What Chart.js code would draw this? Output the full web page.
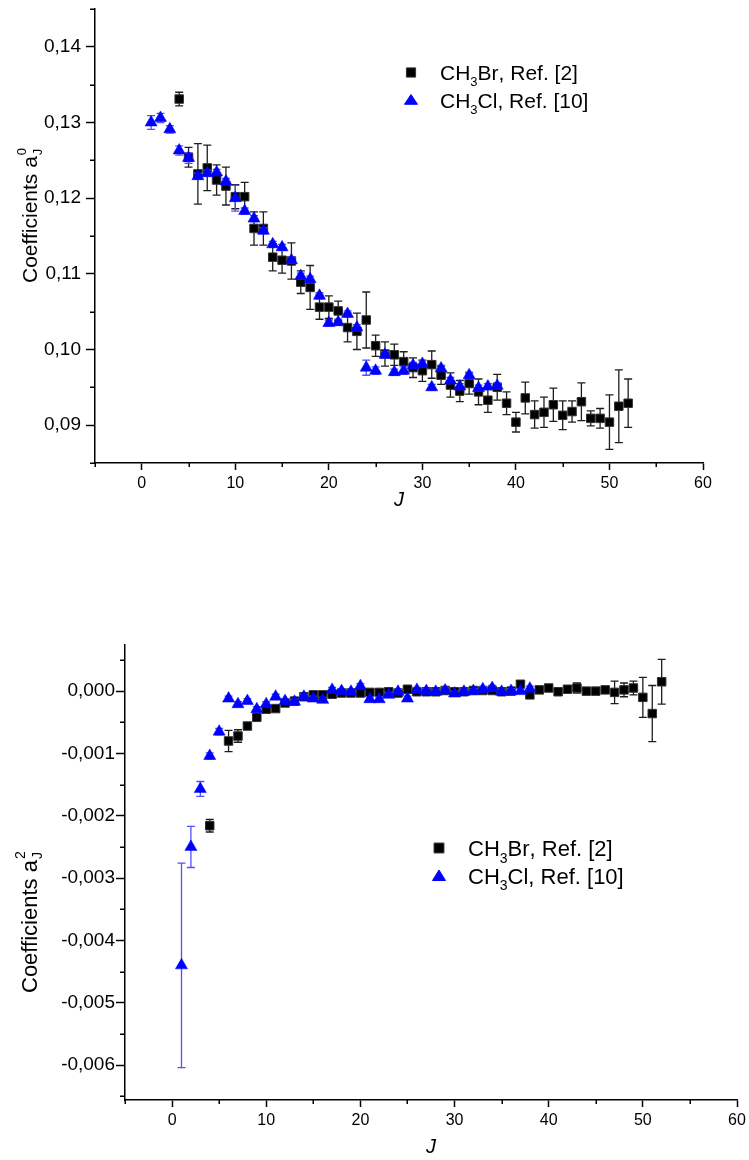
<!DOCTYPE html>
<html><head><meta charset="utf-8">
<script src="https://cdn.jsdelivr.net/npm/chart.js@4.4.1/dist/chart.umd.min.js"></script>
<style>
html,body{margin:0;padding:0;background:#fff;}
#c1{position:absolute;left:0;top:0;}
#c2{position:absolute;left:0;top:560px;}
</style></head><body>
<canvas id="c1" width="749" height="560"></canvas>
<canvas id="c2" width="749" height="600"></canvas>
<script>
const FONT = "'Liberation Sans', Arial, Helvetica, sans-serif";
const seriesNames = ['CH₃Br, Ref. [2]', 'CH₃Cl, Ref. [10]'];
const xTickValues = [0, 10, 20, 30, 40, 50, 60];
const xMinorTicks = [-5, 5, 15, 25, 35, 45, 55];

// ---- Top panel: coefficients a0_J ----
const jBrTop  = [4,5,6,7,8,9,10,11,12,13,14,15,16,17,18,19,20,21,22,23,24,25,26,27,28,29,30,31,32,33,34,35,36,37,38,39,40,41,42,43,44,45,46,47,48,49,50,51,52];
const aBrTop  = [0.1331,0.1254,0.1232,0.1240,0.1224,0.1216,0.1202,0.1202,0.1160,0.1160,0.1122,0.1118,0.1117,0.1089,0.1082,0.1056,0.1056,0.1051,0.1029,0.1024,0.1039,0.1005,0.0994,0.0993,0.0984,0.0976,0.0972,0.0980,0.0966,0.0953,0.0945,0.0955,0.0944,0.0933,0.0950,0.0929,0.0904,0.0936,0.0914,0.0917,0.0927,0.0913,0.0918,0.0931,0.0909,0.0909,0.0904,0.0925,0.0929];
const eBrTop  = [0.0009,0.0013,0.0040,0.0030,0.0020,0.0025,0.0016,0.0019,0.0022,0.0022,0.0018,0.0017,0.0024,0.0015,0.0029,0.0016,0.0015,0.0013,0.0019,0.0024,0.0037,0.0014,0.0016,0.0014,0.0013,0.0013,0.0014,0.0018,0.0012,0.0016,0.0014,0.0014,0.0017,0.0016,0.0017,0.0015,0.0013,0.0021,0.0018,0.0020,0.0022,0.0019,0.0014,0.0025,0.0010,0.0013,0.0036,0.0048,0.0032];
const jClTop  = [1,2,3,4,5,6,7,8,9,10,11,12,13,14,15,16,17,18,19,20,21,22,23,24,25,26,27,28,29,30,31,32,33,34,35,36,37,38];
const aClTop  = [0.1300,0.1306,0.1291,0.1263,0.1253,0.1229,0.1233,0.1234,0.1222,0.1200,0.1183,0.1173,0.1157,0.1139,0.1135,0.1118,0.1097,0.1093,0.1071,0.1035,0.1036,0.1047,0.1029,0.0976,0.0972,0.0993,0.0970,0.0972,0.0979,0.0981,0.0950,0.0975,0.0959,0.0951,0.0966,0.0949,0.0951,0.0952];
const eClTop  = [0.0009,0.0006,0.0005,0.0006,0.0007,0.0004,0.0004,0.0004,0.0004,0.0017,0.0004,0.0004,0.0004,0.0004,0.0004,0.0004,0.0004,0.0004,0.0004,0.0004,0.0004,0.0004,0.0004,0.0010,0.0005,0.0004,0.0004,0.0005,0.0004,0.0004,0.0004,0.0004,0.0004,0.0004,0.0004,0.0004,0.0004,0.0004];
const yTicksTop = [0.09, 0.10, 0.11, 0.12, 0.13, 0.14];
const yMinorTop = [0.085, 0.095, 0.105, 0.115, 0.125, 0.135, 0.145];

// ---- Bottom panel: coefficients a2_J ----
const jBrBot  = [4,6,7,8,9,10,11,12,13,14,15,16,17,18,19,20,21,22,23,24,25,26,27,28,29,30,31,32,33,34,35,36,37,38,39,40,41,42,43,44,45,46,47,48,49,50,51,52];
const aBrBot  = [-0.00216,-0.00080,-0.00072,-0.00056,-0.00042,-0.00029,-0.00028,-0.00019,-0.00016,-0.00009,-0.00006,-0.00006,-0.00005,-0.00003,-0.00003,-0.00003,-0.00002,-0.00002,-0.00001,-0.00003,0.00003,-0.00001,-0.00001,-0.00001,0.00001,-0.00001,-0.00001,0.00001,0.00001,0.00001,-0.00001,0.00000,0.00011,-0.00006,0.00002,0.00005,-0.00001,0.00003,0.00005,0.00000,0.00000,0.00002,-0.00002,0.00002,0.00005,-0.00010,-0.00036,0.00015];
const eBrBot  = [0.00010,0.00017,0.00010,0.00004,0.00004,0.00004,0.00004,0.00004,0.00004,0.00004,0.00004,0.00004,0.00004,0.00004,0.00004,0.00004,0.00004,0.00004,0.00004,0.00005,0.00004,0.00004,0.00004,0.00004,0.00004,0.00004,0.00004,0.00004,0.00004,0.00004,0.00004,0.00004,0.00004,0.00004,0.00004,0.00004,0.00004,0.00004,0.00008,0.00004,0.00004,0.00004,0.00018,0.00011,0.00011,0.00032,0.00045,0.00036];
const jClBot  = [1,2,3,4,5,6,7,8,9,10,11,12,13,14,15,16,17,18,19,20,21,22,23,24,25,26,27,28,29,30,31,32,33,34,35,36,37,38];
const aClBot  = [-0.00440,-0.00250,-0.00157,-0.00104,-0.00065,-0.00012,-0.00021,-0.00016,-0.00029,-0.00021,-0.00009,-0.00016,-0.00017,-0.00009,-0.00012,-0.00014,0.00002,0.00000,-0.00001,0.00008,-0.00013,-0.00013,-0.00006,-0.00001,-0.00012,0.00002,0.00000,-0.00001,0.00001,-0.00004,-0.00001,0.00000,0.00003,0.00005,-0.00001,0.00000,0.00000,0.00004];
const eClBot  = [0.00164,0.00033,0.00012,0.00005,0.00005,0.00004,0.00004,0.00004,0.00004,0.00004,0.00004,0.00004,0.00004,0.00004,0.00004,0.00004,0.00004,0.00004,0.00004,0.00004,0.00004,0.00004,0.00004,0.00004,0.00004,0.00004,0.00004,0.00004,0.00004,0.00004,0.00004,0.00004,0.00004,0.00004,0.00004,0.00004,0.00004,0.00004];
const yTicksBot = [0, -0.001, -0.002, -0.003, -0.004, -0.005, -0.006];
const yMinorBot = [0.0005, -0.0005, -0.0015, -0.0025, -0.0035, -0.0045, -0.0055, -0.0065];

const pts = (js, vs) => js.map((j, i) => ({x: j, y: vs[i]}));

// error bars drawn just before each dataset's own markers
const errorBars = {
  id: 'errorBars',
  beforeDatasetDraw(chart, args) {
    const ds = chart.data.datasets[args.index];
    if (!ds.errors) return;
    const ctx = chart.ctx, xs = chart.scales.x, ys = chart.scales.y;
    const cap = 4;
    ctx.save();
    ctx.strokeStyle = ds.errorColor;
    ctx.lineWidth = 1.3;
    ds.data.forEach((p, i) => {
      const e = ds.errors[i];
      if (!e) return;
      const x = xs.getPixelForValue(p.x);
      const y1 = ys.getPixelForValue(p.y + e), y2 = ys.getPixelForValue(p.y - e);
      ctx.beginPath();
      ctx.moveTo(x, y1); ctx.lineTo(x, y2);
      ctx.moveTo(x - cap, y1); ctx.lineTo(x + cap, y1);
      ctx.moveTo(x - cap, y2); ctx.lineTo(x + cap, y2);
      ctx.stroke();
    });
    ctx.restore();
  }
};

const minorTicks = {
  id: 'minorTicks',
  afterDraw(chart, args, opts) {
    const ctx = chart.ctx, xs = chart.scales.x, ys = chart.scales.y;
    const ca = chart.chartArea;
    ctx.save();
    ctx.strokeStyle = '#000';
    ctx.lineWidth = 1.5;
    ctx.beginPath();
    opts.x.forEach(v => {
      const px = Math.round(xs.getPixelForValue(v)) + 0.25;
      ctx.moveTo(px, ca.bottom); ctx.lineTo(px, ca.bottom + 4);
    });
    opts.y.forEach(v => {
      const py = Math.round(ys.getPixelForValue(v)) + 0.25;
      ctx.moveTo(ca.left - 5, py); ctx.lineTo(ca.left, py);
    });
    ctx.stroke();
    ctx.restore();
  }
};

function drawSubText(ctx, str, x, baseline, size) {
  const subMap = {'₃': '3'};
  let cx = x;
  for (const ch of str) {
    if (subMap[ch]) {
      ctx.font = Math.round(size * 0.62) + 'px ' + FONT;
      ctx.fillText(subMap[ch], cx, baseline + size * 0.3);
      cx += ctx.measureText(subMap[ch]).width;
    } else {
      ctx.font = size + 'px ' + FONT;
      ctx.fillText(ch, cx, baseline);
      cx += ctx.measureText(ch).width;
    }
  }
}

const insideLegend = {
  id: 'insideLegend',
  afterDraw(chart, args, o) {
    const ctx = chart.ctx;
    ctx.save();
    ctx.textBaseline = 'alphabetic';
    ctx.textAlign = 'left';
    ctx.fillStyle = '#000';
    const dsList = chart.data.datasets;
    o.rows.forEach((row, i) => {
      const ds = dsList[i];
      ctx.fillStyle = ds.pointBackgroundColor;
      ctx.strokeStyle = ds.pointBorderColor;
      ctx.lineWidth = 1;
      if (ds.pointStyle === 'rect') {
        Chart.helpers.drawPoint(ctx, {pointStyle: 'rect', radius: o.rectR, borderWidth: 1, rotation: 0}, o.markerX, row.markerY);
      } else {
        Chart.helpers.drawPointLegend(ctx, {pointStyle: 'triangle', radius: o.triR, borderWidth: 1, rotation: 0}, o.markerX, row.markerY, o.triW);
      }
      ctx.fillStyle = '#000';
      drawSubText(ctx, ds.label, o.textX, row.baseline, o.size);
    });
    ctx.restore();
  }
};

const yTitle = {
  id: 'yTitle',
  afterDraw(chart, args, o) {
    const ctx = chart.ctx;
    ctx.save();
    ctx.translate(o.cx, o.cy);
    ctx.rotate(-Math.PI / 2);
    ctx.fillStyle = '#000';
    ctx.textAlign = 'left';
    ctx.textBaseline = 'alphabetic';
    ctx.font = o.size + 'px ' + FONT;
    ctx.fillText(o.main, 0, 0);
    const w = ctx.measureText(o.main).width + 1;
    ctx.font = Math.round(o.size * 0.62) + 'px ' + FONT;
    ctx.fillText(o.sup, w, -o.size * 0.52);
    ctx.fillText(o.sub, w, o.size * 0.26);
    ctx.restore();
  }
};

function axisCommon(xTitlePad) {
  return {
    x: {
      type: 'linear', min: -5, max: 60,
      afterBuildTicks: s => { s.ticks = xTickValues.map(v => ({value: v})); },
      grid: {drawOnChartArea: false, drawTicks: true, tickLength: 7, tickColor: '#000', tickWidth: 1.5},
      border: {display: true, color: '#000', width: 1.5},
      ticks: {color: '#000', font: {family: FONT, size: 16}, padding: 4, maxRotation: 0, autoSkip: false,
              callback: v => String(v)},
      title: {display: true, text: 'J', color: '#000', font: {family: FONT, size: 20, style: 'italic'},
              padding: {top: 0, bottom: xTitlePad}}
    }
  };
}

function makeChart(id, cfg) {
  const scales = axisCommon(cfg.xTitlePad);
  scales.x.afterFit = s => { s.height = cfg.xHeight; s.paddingLeft = 0; s.paddingRight = 0; };
  scales.y = {
    type: 'linear', min: cfg.yMin, max: cfg.yMax,
    afterBuildTicks: s => { s.ticks = cfg.yTicks.map(v => ({value: v})); },
    afterFit: s => { s.width = cfg.yWidth; s.paddingTop = 0; s.paddingBottom = 0; },
    grid: {drawOnChartArea: false, drawTicks: true, tickLength: 9, tickColor: '#000', tickWidth: 1.5},
    border: {display: true, color: '#000', width: 1.5},
    ticks: {color: '#000', font: {family: FONT, size: 19}, padding: cfg.yPad, autoSkip: false,
            callback: cfg.fmt},
    title: {display: false, text: cfg.title.main + cfg.title.sup + cfg.title.sub}
  };
  return new Chart(document.getElementById(id), {
    type: 'scatter',
    data: {
      datasets: [
        {label: seriesNames[0], data: pts(cfg.jBr, cfg.aBr), errors: cfg.eBr, errorColor: '#1e1e1e',
         pointStyle: 'rect', pointRadius: 6, pointBackgroundColor: '#000', pointBorderColor: '#333', pointBorderWidth: 1,
         order: 2},
        {label: seriesNames[1], data: pts(cfg.jCl, cfg.aCl), errors: cfg.eCl, errorColor: '#5050ff',
         pointStyle: 'triangle', pointRadius: 7, pointBackgroundColor: '#0000ff', pointBorderColor: '#0000ff', pointBorderWidth: 0.5,
         order: 1}
      ]
    },
    options: {
      responsive: false, animation: false, devicePixelRatio: 1,
      layout: {padding: cfg.padding},
      scales: scales,
      plugins: {
        legend: {display: false}, tooltip: {enabled: false},
        minorTicks: {x: xMinorTicks, y: cfg.yMinor},
        insideLegend: cfg.legend,
        yTitle: cfg.title
      }
    },
    plugins: [errorBars, minorTicks, insideLegend, yTitle]
  });
}

makeChart('c1', {
  jBr: jBrTop, aBr: aBrTop, eBr: eBrTop, jCl: jClTop, aCl: aClTop, eCl: eClTop,
  yMin: 0.085, yMax: 0.145, yTicks: yTicksTop, yMinor: yMinorTop,
  fmt: v => v.toFixed(2).replace('.', ','),
  padding: {left: 0, right: 46, top: 9, bottom: 0},
  yWidth: 95, xHeight: 97, xTitlePad: 48, yPad: 5,
  legend: {markerX: 411, textX: 440, size: 21, rectR: 6.5, triR: 6.5, triW: 15,
           rows: [{markerY: 72.5, baseline: 79.5}, {markerY: 101, baseline: 107.5}]},
  title: {cx: 36.5, cy: 283, size: 21, main: 'Coefficients a', sup: '0', sub: 'J'}
});

makeChart('c2', {
  jBr: jBrBot, aBr: aBrBot, eBr: eBrBot, jCl: jClBot, aCl: aClBot, eCl: eClBot,
  yMin: -0.00656, yMax: 0.00074, yTicks: yTicksBot, yMinor: yMinorBot,
  fmt: v => (Math.abs(v) < 1e-12 ? '0,000' : v.toFixed(3).replace('.', ',')),
  padding: {left: 0, right: 12, top: 85, bottom: 0},
  yWidth: 125, xHeight: 60, xTitlePad: 1, yPad: 1,
  legend: {markerX: 439, textX: 468, size: 22, rectR: 7, triR: 7, triW: 15,
           rows: [{markerY: 848 - 560, baseline: 856 - 560}, {markerY: 877 - 560, baseline: 883.5 - 560}]},
  title: {cx: 36.5, cy: 993 - 560, size: 22, main: 'Coefficients a', sup: '2', sub: 'J'}
});
</script>
</body></html>
